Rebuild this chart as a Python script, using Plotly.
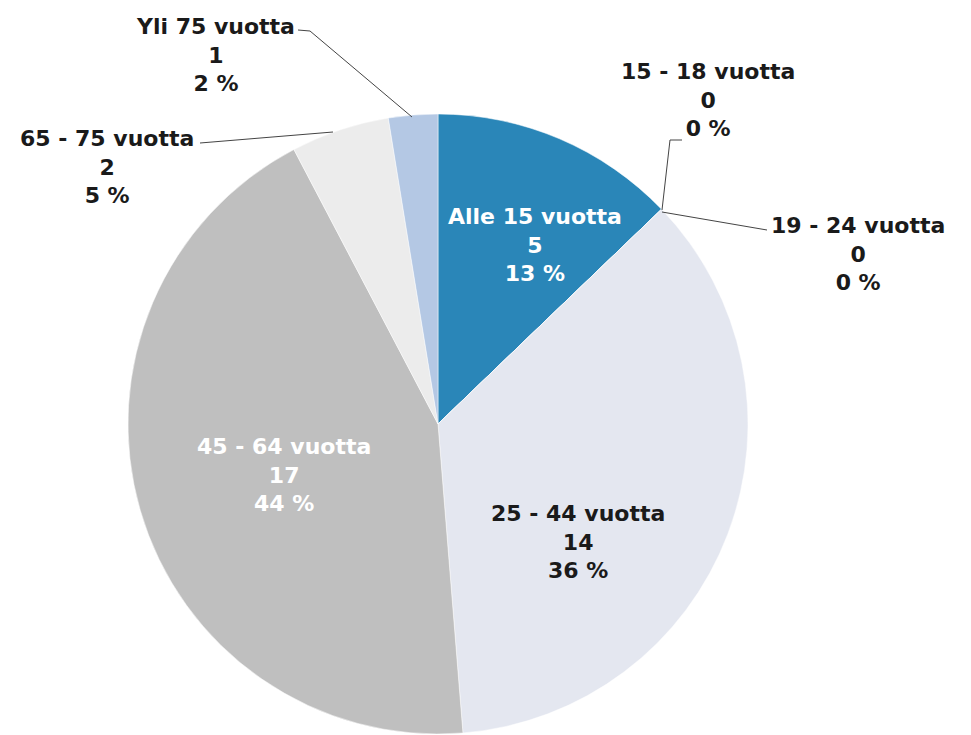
import plotly.graph_objects as go

# the page keeps the browser's 8px body margin, so the figure is 8px smaller
OFF = 8
W, H = 971 - OFF, 735 - OFF

# data
age_groups = ["Alle 15 vuotta", "15 - 18 vuotta", "19 - 24 vuotta", "25 - 44 vuotta",
              "45 - 64 vuotta", "65 - 75 vuotta", "Yli 75 vuotta"]
counts = [5, 0, 0, 14, 17, 2, 1]
percent_labels = ["13 %", "0 %", "0 %", "36 %", "44 %", "5 %", "2 %"]
slice_colors = ["#2a86b8", "#8fb3d9", "#6a9fcf", "#e4e7f0", "#bfbfbf", "#ececec", "#b4c8e4"]


def pt(x, y):
    # page pixel position -> paper coordinates (margins are zero)
    return (x - OFF) / W, 1 - (y - OFF) / H


x0, y_top = pt(128, 114)
x1, y_bot = pt(748, 734)

fig = go.Figure(go.Pie(
    labels=age_groups,
    values=counts,
    sort=False,
    direction="clockwise",
    rotation=0,
    textinfo="none",
    hoverinfo="label+value+percent",
    marker=dict(colors=slice_colors, line=dict(color="#ffffff", width=0.5)),
    domain=dict(x=[x0, x1], y=[max(y_bot, 0), y_top]),
    showlegend=False,
))

# label positions (page pixels) and text colours
label_pos = {
    "Alle 15 vuotta": (535, 245, "white"),
    "15 - 18 vuotta": (708, 100, "#1a1a1a"),
    "19 - 24 vuotta": (858, 254, "#1a1a1a"),
    "25 - 44 vuotta": (578, 542, "#1a1a1a"),
    "45 - 64 vuotta": (284, 475, "white"),
    "65 - 75 vuotta": (107, 167, "#1a1a1a"),
    "Yli 75 vuotta": (215, 55, "#1a1a1a"),
}

for name, n, pct in zip(age_groups, counts, percent_labels):
    x, y, col = label_pos[name]
    px_, py_ = pt(x, y)
    fig.add_annotation(
        x=px_, y=py_, xref="paper", yref="paper",
        text=f"{name}<br>{n}<br>{pct}",
        showarrow=False, xanchor="center", yanchor="middle", align="center",
        font=dict(family="DejaVu Sans", size=22, color=col, weight="bold"),
    )

# leader lines
leaders = [
    [(298, 30), (310, 31), (412, 117)],
    [(200, 143), (333, 132)],
    [(682, 140), (670, 140), (662, 210)],
    [(662, 212), (767, 230)],
]
for pts in leaders:
    p = [pt(x, y) for x, y in pts]
    path = "M " + " L ".join(f"{a},{b}" for a, b in p)
    fig.add_shape(type="path", path=path, xref="paper", yref="paper",
                  line=dict(color="#444444", width=1))

fig.update_layout(
    width=W, height=H,
    margin=dict(l=0, r=0, t=0, b=0),
    paper_bgcolor="white",
    plot_bgcolor="white",
)

fig.write_html("out.html")
